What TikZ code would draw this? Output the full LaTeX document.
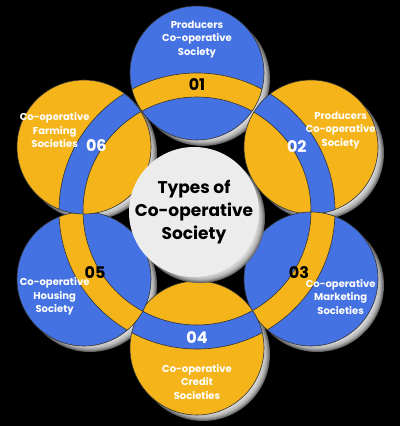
\documentclass[tikz,border=0pt]{standalone}
\usepackage{fontspec}
\setmainfont{Poppins}
\usetikzlibrary{calc}
\definecolor{coblue}{RGB}{68,114,226}
\definecolor{coyellow}{RGB}{244,180,26}
\definecolor{cogray}{RGB}{236,236,236}
\pgfdeclareradialshading{rim}{\pgfpointorigin}{color(0bp)=(white); color(20.5bp)=(white); color(23.5bp)=(gray!60); color(25bp)=(black!70); color(50bp)=(black!70)}
\def\R{67pt}
% disc with its own piece of the ring: centre, fill, band colour
\newcommand{\disc}[3]{%
  \fill[#2] (#1) circle[radius=\R];
  \begin{scope}
    \clip (#1) circle[radius=\R];
    \fill[#3, even odd rule] (C) circle[radius=138pt] (C) circle[radius=114pt];
    \draw[edge] (C) circle[radius=138pt] (C) circle[radius=114pt];
  \end{scope}
  \draw[edge] (#1) circle[radius=\R];}
\tikzset{
  edge/.style={draw=black!80, line width=0.6pt},
  circtext/.style={text=white, align=center, font=\fontsize{10}{13.5}\selectfont\bfseries},
  numtext/.style={font=\fontsize{16}{16}\selectfont\bfseries},
}

\begin{document}
\begin{tikzpicture}[x=1pt, y=1pt]
\fill[black] (0,0) rectangle (400,426);
\useasboundingbox (0,0) rectangle (400,426);
\coordinate (C) at (197,215);
\coordinate (M) at (194,214);
\coordinate (top) at (197,353);
\coordinate (ur) at (311,279);
\coordinate (lr) at (311,147);
\coordinate (bot) at (197,78);
\coordinate (ll) at (84,147);
\coordinate (ul) at (84,279);
% shadows
\foreach \p in {top,ur,lr,bot,ll,ul}
  \shade[shading=rim] ($(\p)+(6,-6)$) circle[radius=\R];
% discs
\disc{top}{coblue}{coyellow}
\disc{ur}{coyellow}{coblue}
\disc{lr}{coblue}{coyellow}
\disc{bot}{coyellow}{coblue}
\disc{ll}{coblue}{coyellow}
\disc{ul}{coyellow}{coblue}
% centre
\shade[shading=rim] ($(M)+(6,-6)$) circle[radius=65pt];
\fill[cogray] (M) circle[radius=65pt];
\node[align=center, font=\fontsize{17}{23}\selectfont\bfseries] (title) at (M) {Types of\\Co-operative\\Society};
% texts
\node[circtext] (t1) at ($(C)!1.245!(top)$) {Producers\\Co-operative\\Society};
\node[circtext] (t2) at ($(C)!1.26!(ur)$) {Producers\\Co-operative\\Society};
\node[circtext] (t3) at ($(C)!1.26!(lr)$) {Co-operative\\Marketing\\Societies};
\node[circtext] (t4) at ($(C)!1.245!(bot)$) {Co-operative\\Credit\\Societies};
\node[circtext] (t5) at ($(C)!1.26!(ll)$) {Co-operative\\Housing\\Society};
\node[circtext] (t6) at ($(C)!1.26!(ul)$) {Co-operative\\Farming\\Societies};
% numbers
\node[numtext] (n1) at ($(C)+(90:126)$) {01};
\node[numtext, text=white] (n2) at ($(C)+(33:119)$) {02};
\node[numtext] (n3) at ($(C)+(-31:119)$) {03};
\node[numtext, text=white] (n4) at ($(C)+(-90:127)$) {04};
\node[numtext] (n5) at ($(C)+(-149:119)$) {05};
\node[numtext, text=white] (n6) at ($(C)+(147:120)$) {06};
\end{tikzpicture}
\end{document}
